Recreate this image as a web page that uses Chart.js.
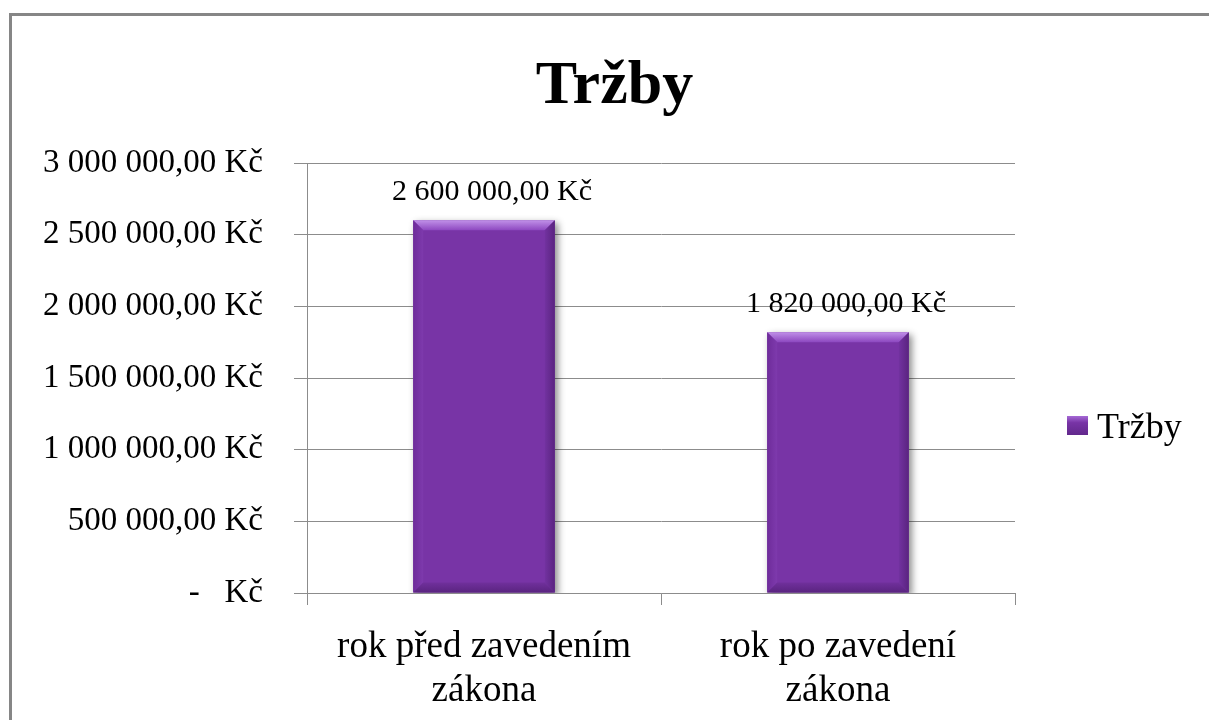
<!DOCTYPE html>
<html>
<head>
<meta charset="utf-8">
<title>Tržby</title>
<script src="https://cdn.jsdelivr.net/npm/chart.js@4.4.1/dist/chart.umd.min.js"></script>
<style>
  html, body { margin: 0; padding: 0; background: #fff; overflow: hidden; }
  #frame {
    position: absolute; left: 9px; top: 13px;
    width: 1400px; height: 900px;
    border: 3px solid #868686; box-sizing: border-box;
  }
  #wrap { position: absolute; left: 0; top: 0; width: 1209px; height: 720px; }
</style>
</head>
<body>
<div id="frame"></div>
<div id="wrap"><canvas id="chart" width="1209" height="720"></canvas></div>
<script>
// data
const categories = [['rok před zavedením', 'zákona'], ['rok po zavedení', 'zákona']];
const revenue = [2600000, 1820000];
const seriesName = 'Tržby';
const chartTitle = 'Tržby';
const yMax = 3000000;
const yStep = 500000;

const serif = "'Liberation Serif', 'Times New Roman', serif";
const barColor = '#7834a6';
const gridColor = '#8c8c8c';

// 2600000 -> "2 600 000,00 Kč", 0 -> "-   Kč"
function formatKc(v) {
    if (v === 0) return '-\u00a0\u00a0\u00a0Kč';
    let s = Math.round(v).toString().replace(/\B(?=(\d{3})+(?!\d))/g, ' ');
    return s + ',00 Kč';
}

// soft shadow under the bars
const barShadow = {
    id: 'barShadow',
    beforeDatasetDraw(chart) {
        const ctx = chart.ctx;
        ctx.save();
        ctx.shadowColor = 'rgba(0,0,0,0.45)';
        ctx.shadowBlur = 7;
        ctx.shadowOffsetX = 3;
        ctx.shadowOffsetY = 3;
    },
    afterDatasetDraw(chart) {
        chart.ctx.restore();
    }
};

// bevel edges like the office "soft edge" bars
const barBevel = {
    id: 'barBevel',
    afterDatasetsDraw(chart) {
        const ctx = chart.ctx;
        const meta = chart.getDatasetMeta(0);
        const b = 10;
        meta.data.forEach(bar => {
            const l = bar.x - bar.width / 2;
            const r = bar.x + bar.width / 2;
            const t = bar.y;
            const btm = bar.base;

            ctx.save();
            // top
            let g = ctx.createLinearGradient(0, t, 0, t + b);
            g.addColorStop(0, '#c090e8');
            g.addColorStop(1, '#8d48c0');
            ctx.fillStyle = g;
            ctx.beginPath();
            ctx.moveTo(l, t); ctx.lineTo(r, t); ctx.lineTo(r - b, t + b); ctx.lineTo(l + b, t + b);
            ctx.closePath(); ctx.fill();
            // left
            g = ctx.createLinearGradient(l, 0, l + b, 0);
            g.addColorStop(0, '#6e2c9a');
            g.addColorStop(1, '#7e3aad');
            ctx.fillStyle = g;
            ctx.beginPath();
            ctx.moveTo(l, t); ctx.lineTo(l + b, t + b); ctx.lineTo(l + b, btm - b); ctx.lineTo(l, btm);
            ctx.closePath(); ctx.fill();
            // right
            g = ctx.createLinearGradient(r - b, 0, r, 0);
            g.addColorStop(0, '#7232a0');
            g.addColorStop(1, '#5a2480');
            ctx.fillStyle = g;
            ctx.beginPath();
            ctx.moveTo(r, t); ctx.lineTo(r - b, t + b); ctx.lineTo(r - b, btm - b); ctx.lineTo(r, btm);
            ctx.closePath(); ctx.fill();
            // bottom
            g = ctx.createLinearGradient(0, btm - b, 0, btm);
            g.addColorStop(0, '#70309c');
            g.addColorStop(1, '#5a2480');
            ctx.fillStyle = g;
            ctx.beginPath();
            ctx.moveTo(l, btm); ctx.lineTo(l + b, btm - b); ctx.lineTo(r - b, btm - b); ctx.lineTo(r, btm);
            ctx.closePath(); ctx.fill();
            ctx.restore();
        });
    }
};

// value labels above the bars
const valueLabels = {
    id: 'valueLabels',
    afterDatasetsDraw(chart) {
        const ctx = chart.ctx;
        const ds = chart.data.datasets[0];
        const meta = chart.getDatasetMeta(0);
        ctx.save();
        ctx.font = '30px ' + serif;
        ctx.fillStyle = '#000';
        ctx.textAlign = 'center';
        ctx.textBaseline = 'alphabetic';
        meta.data.forEach((bar, i) => {
            ctx.fillText(formatKc(ds.data[i]), bar.x + 8, bar.y - 20);
        });
        ctx.restore();
    }
};

// legend on the right, vertically a bit below the plot middle
const sideLegend = {
    id: 'sideLegend',
    afterDraw(chart) {
        const ctx = chart.ctx;
        const ds = chart.data.datasets[0];
        const x = chart.chartArea.right + 52;
        const y = 416;
        ctx.save();
        let g = ctx.createLinearGradient(0, y, 0, y + 19);
        g.addColorStop(0, '#a66ad6');
        g.addColorStop(0.35, ds.backgroundColor);
        g.addColorStop(1, '#62288c');
        ctx.fillStyle = g;
        ctx.fillRect(x, y, 21, 19);
        ctx.font = '36px ' + serif;
        ctx.fillStyle = '#000';
        ctx.textAlign = 'left';
        ctx.textBaseline = 'alphabetic';
        ctx.fillText(ds.label, x + 30, 438);
        ctx.restore();
    }
};

new Chart(document.getElementById('chart'), {
    type: 'bar',
    data: {
        labels: categories,
        datasets: [{
            label: seriesName,
            data: revenue,
            backgroundColor: barColor,
            borderWidth: 0,
            barPercentage: 0.4,
            categoryPercentage: 1
        }]
    },
    options: {
        responsive: false,
        animation: false,
        layout: { padding: { left: 20, right: 0, top: 0, bottom: 0 } },
        plugins: {
            legend: { display: false },
            tooltip: { enabled: false },
            title: {
                display: true,
                text: chartTitle,
                color: '#000',
                font: { family: serif, size: 62, weight: 'bold', lineHeight: 1.2 },
                padding: { top: 50, bottom: 38.6 }
            }
        },
        scales: {
            x: {
                grid: { drawOnChartArea: false, drawTicks: true, tickLength: 12, color: gridColor, offset: true },
                border: { display: true, color: gridColor },
                ticks: {
                    color: '#000',
                    font: { family: serif, size: 37, lineHeight: 1.2 },
                    padding: 20,
                    maxRotation: 0,
                    autoSkip: false
                },
                afterFit(scale) { scale.height = 127; }
            },
            y: {
                min: 0,
                max: yMax,
                grid: { color: gridColor, tickLength: 13, drawTicks: true },
                border: { display: true, color: gridColor },
                ticks: {
                    stepSize: yStep,
                    color: '#000',
                    font: { family: serif, size: 33 },
                    padding: 31,
                    callback: v => formatKc(v)
                },
                afterFit(scale) { scale.width = 287; }
            },
            // empty space on the right where the legend sits
            spacer: {
                type: 'linear',
                position: 'right',
                display: true,
                grid: { display: false },
                border: { display: false },
                ticks: { display: false },
                afterFit(scale) { scale.width = 194; }
            }
        }
    },
    plugins: [barShadow, barBevel, valueLabels, sideLegend]
});
</script>
</body>
</html>
